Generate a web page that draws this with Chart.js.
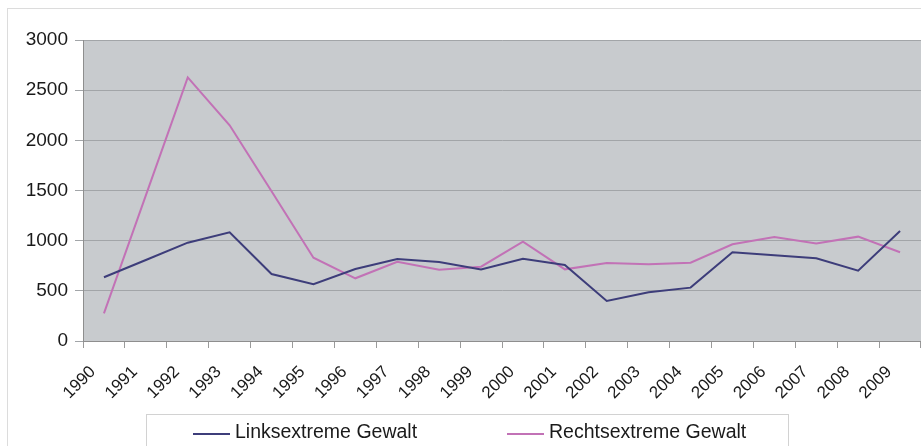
<!DOCTYPE html>
<html>
<head>
<meta charset="utf-8">
<script src="https://cdn.jsdelivr.net/npm/chart.js@4/dist/chart.umd.min.js"></script>
<style>
  html, body { margin: 0; padding: 0; background: #ffffff; }
  #wrap { position: relative; width: 921px; height: 446px; overflow: hidden; }
  #frame { position: absolute; left: 7px; top: 8px; width: 930px; height: 460px; border: 1px solid #dcdcdc; box-sizing: border-box; }
  canvas { position: absolute; left: 0; top: 0; }
</style>
</head>
<body>
<div id="wrap">
  <div id="frame"></div>
  <canvas id="c" width="921" height="446"></canvas>
</div>
<script>
const years = ["1990","1991","1992","1993","1994","1995","1996","1997","1998","1999",
               "2000","2001","2002","2003","2004","2005","2006","2007","2008","2009"];
const linksLabel = "Linksextreme Gewalt";
const rechtsLabel = "Rechtsextreme Gewalt";
const linksValues = [635, 807, 980, 1083, 668, 565, 718, 817, 787, 714,
                     820, 757, 399, 485, 532, 884, 854, 824, 701, 1096];
const rechtsValues = [276, 1452, 2628, 2150, 1492, 830, 625, 790, 711, 741,
                      990, 714, 777, 764, 781, 964, 1037, 973, 1040, 884];
const yTicks = [0, 500, 1000, 1500, 2000, 2500, 3000];

const FONT = "'Liberation Sans', Arial, sans-serif";

const plotBg = {
  id: 'plotBg',
  beforeDraw(chart) {
    const {ctx, chartArea: a} = chart;
    ctx.save();
    ctx.fillStyle = '#c8cbce';
    ctx.fillRect(a.left, a.top, a.right - a.left, a.bottom - a.top);
    ctx.restore();
  }
};

const boxLegend = {
  id: 'boxLegend',
  afterDraw(chart) {
    const ctx = chart.ctx;
    ctx.save();
    ctx.strokeStyle = '#d2d2d2';
    ctx.lineWidth = 1;
    ctx.strokeRect(146.5, 414.5, 642, 60);
    const starts = [193, 507];
    ctx.font = '19.5px ' + FONT;
    ctx.textBaseline = 'middle';
    ctx.textAlign = 'left';
    chart.data.datasets.forEach((ds, i) => {
      const x = starts[i];
      ctx.strokeStyle = ds.borderColor;
      ctx.lineWidth = 2;
      ctx.beginPath();
      ctx.moveTo(x, 434);
      ctx.lineTo(x + 37, 434);
      ctx.stroke();
      ctx.fillStyle = '#1a1a1a';
      ctx.fillText(ds.label, x + 42, 433);
    });
    ctx.restore();
  }
};

new Chart(document.getElementById('c'), {
  type: 'line',
  data: {
    labels: years,
    datasets: [
      { label: linksLabel, data: linksValues, borderColor: '#3d3d7a', backgroundColor: '#3d3d7a',
        borderWidth: 2, pointRadius: 0, tension: 0, fill: false },
      { label: rechtsLabel, data: rechtsValues, borderColor: '#c272b6', backgroundColor: '#c272b6',
        borderWidth: 2, pointRadius: 0, tension: 0, fill: false }
    ]
  },
  options: {
    responsive: false,
    animation: false,
    devicePixelRatio: 1,
    layout: { padding: { top: 40, left: 0, right: 0, bottom: 40 } },
    plugins: { legend: { display: false }, tooltip: { enabled: false } },
    scales: {
      x: {
        type: 'category',
        offset: true,
        grid: { offset: true, drawOnChartArea: false, drawTicks: true, tickLength: 7, color: '#9a9a9a' },
        border: { display: true, color: '#8e8e8e', width: 1 },
        ticks: {
          autoSkip: false, maxRotation: 45, minRotation: 45, labelOffset: -11, padding: 14,
          color: '#1a1a1a', font: { family: FONT, size: 17 }
        },
        afterFit(scale) { scale.height = 65; scale.paddingRight = 0; scale.paddingLeft = 0; }
      },
      y: {
        min: 0, max: 3000,
        afterBuildTicks(scale) { scale.ticks = yTicks.map(v => ({ value: v })); },
        grid: { color: '#a2a5a8', lineWidth: 1, tickLength: 8, drawTicks: true },
        border: { display: true, color: '#8e8e8e', width: 1 },
        ticks: { padding: 7, color: '#1a1a1a', font: { family: FONT, size: 19 },
                 callback: (v) => String(v) },
        afterFit(scale) { scale.width = 83; }
      }
    }
  },
  plugins: [plotBg, boxLegend]
});
</script>
</body>
</html>
